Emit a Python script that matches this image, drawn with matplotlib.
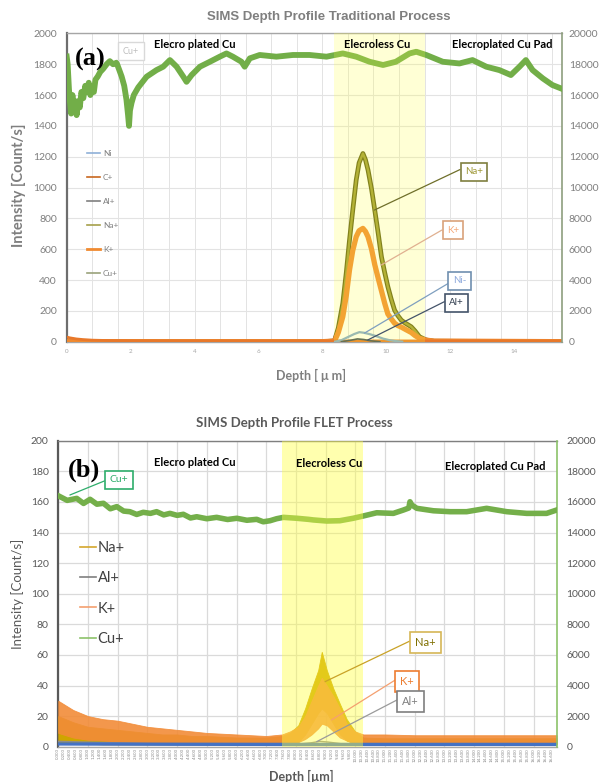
import matplotlib
matplotlib.use("Agg")
import matplotlib.pyplot as plt
from matplotlib.lines import Line2D
from matplotlib.ticker import MultipleLocator, NullFormatter, FuncFormatter

plt.rcParams['font.family'] = ['Lato', 'DejaVu Sans']

# ---------------- Panel (a) data : Traditional process ----------------
cu_a_depth = [0.0, 0.03, 0.07, 0.1, 0.14, 0.18, 0.22, 0.27, 0.31, 0.36, 0.41, 0.46, 0.52,
              0.58, 0.64, 0.69, 0.74, 0.79, 0.85, 0.9, 0.97, 1.05, 1.14, 1.25, 1.35, 1.45,
              1.56, 1.65, 1.72, 1.8, 1.87, 1.92, 1.95, 1.98, 2.03, 2.1, 2.24, 2.5, 2.81,
              3.02, 3.23, 3.44, 3.65, 3.75, 3.91, 4.17, 4.48, 4.79, 5.0, 5.2, 5.47, 5.57,
              5.73, 6.04, 6.56, 7.08, 7.6, 8.13, 8.64, 9.06, 9.48, 9.9, 10.3, 10.73, 10.94,
              11.25, 11.77, 12.29, 12.7, 13.13, 13.54, 13.9, 14.17, 14.37, 14.58, 14.9,
              15.2, 15.47]
cu_a_counts = [18500, 18000, 16400, 15600, 14800, 16000, 15000, 15600, 14700, 15600, 15200,
               16200, 15800, 16600, 16200, 16800, 16000, 16400, 16200, 17000, 17200, 17500,
               17700, 18000, 18200, 18000, 18100, 17600, 17200, 16600, 15700, 14700, 14000,
               15000, 15500, 16000, 16500, 17190, 17620, 17840, 18270, 17840, 17190, 16860,
               17300, 17840, 18160, 18490, 18700, 18490, 18160, 17840, 18380, 18600, 18490,
               18600, 18600, 18490, 18700, 18490, 18160, 17950, 18160, 18700, 18810, 18600,
               18160, 18050, 18270, 17840, 17620, 17300, 17840, 18270, 17620, 17080, 16650,
               16430]

peak_a_depth = [0.0, 8.0, 8.38, 8.5, 8.64, 8.75, 8.85, 8.95, 9.06, 9.15, 9.27, 9.35, 9.43,
                9.54, 9.64, 9.75, 9.85, 9.95, 10.05, 10.15, 10.26, 10.36, 10.47, 10.6,
                10.78, 10.9, 11.04, 11.25, 11.5, 15.5]
na_a = [0, 0, 5, 90, 249, 450, 659, 850, 1049, 1160, 1221, 1180, 1113, 990, 854, 700, 551,
        450, 357, 280, 205, 170, 140, 120, 97, 70, 32, 11, 3, 0]
k_a = [0, 0, 4, 60, 162, 300, 465, 590, 681, 720, 735, 715, 680, 600, 500, 410, 330, 250,
       180, 150, 120, 105, 95, 80, 60, 40, 22, 10, 4, 0]

ni_a_depth = [8.4, 8.6, 8.8, 9.0, 9.16, 9.3, 9.5, 9.7, 9.9, 10.1, 10.3, 10.5]
ni_a = [0, 10, 30, 50, 62, 58, 48, 35, 20, 10, 4, 0]
al_a_depth = [8.6, 8.9, 9.1, 9.3, 9.5, 9.8]
al_a = [0, 10, 18, 14, 6, 0]
c_a_depth = [0, 0.1, 0.3, 0.5, 0.8, 1.2, 2, 4, 6, 8, 10, 12, 14, 15.5]
c_a = [30, 25, 18, 14, 10, 8, 6, 5, 5, 5, 5, 5, 5, 5]

a_left_ticks = list(range(0, 2001, 200))
a_right_ticks = list(range(0, 20001, 2000))
a_band = (8.38, 11.2)

# ---------------- Panel (b) data : FLET process ----------------
cu_b_depth = [0.0, 0.06, 0.3, 0.62, 0.85, 1.07, 1.3, 1.52, 1.75, 1.97, 2.2, 2.41, 2.64,
              2.86, 3.1, 3.31, 3.55, 3.76, 4.0, 4.21, 4.45, 4.66, 5.0, 5.33, 5.7, 6.01,
              6.35, 6.68, 6.9, 7.13, 7.35, 7.58, 8.03, 8.42, 8.59, 9.04, 9.48, 9.93, 10.27,
              10.72, 11.28, 11.62, 11.8, 11.84, 11.9, 12.07, 12.63, 13.19, 13.75, 14.42,
              15.1, 15.77, 16.44, 16.78]
cu_b_counts = [16400, 16340, 16100, 16230, 15900, 16170, 15850, 15910, 15550, 15690, 15400,
               15360, 15180, 15320, 15250, 15360, 15150, 15250, 15120, 15190, 14950, 15030,
               14900, 14990, 14850, 14930, 14800, 14860, 14700, 14770, 14900, 14990, 14930,
               14860, 14820, 14750, 14770, 14930, 15080, 15290, 15250, 15470, 15600, 16010,
               15800, 15580, 15420, 15360, 15360, 15580, 15360, 15250, 15250, 15470]

b_depth = [0.0, 0.5, 1.0, 1.5, 2.0, 2.5, 3.0, 3.5, 4.0, 4.5, 5.0, 5.5, 6.0, 6.5, 7.0, 7.53,
           7.8, 8.08, 8.31, 8.53, 8.75, 8.87, 9.04, 9.26, 9.48, 9.71, 9.99, 10.27, 11.0,
           12.0, 13.0, 14.0, 15.0, 16.0, 16.78]
k_b_lo = [9, 6, 4.5, 4, 3.3, 2.8, 2.2, 2, 1.8, 1.7, 1.7, 1.7, 1.7, 1.7, 1.7, 2, 2.5, 3, 5,
          8, 12, 15, 14, 10, 6, 4, 2, 2, 2, 2, 2, 2, 2, 2, 2]
k_b_hi = [30, 24, 20, 18, 17, 15, 13, 12, 11, 10, 9, 8.5, 8, 7.5, 7, 8, 10, 13, 20, 30, 40,
          45, 40, 33, 25, 15, 10, 8, 8, 7.5, 7.5, 7.5, 7.5, 7.5, 7.5]
na_b_lo = [2, 2, 2, 1.5, 1.5, 1.5, 1.5, 1.5, 1.5, 1.5, 1.5, 1.5, 1.5, 1.5, 1.5, 2, 2, 3, 8,
           15, 22, 25, 22, 15, 8, 4, 2, 1.5, 1.5, 1.5, 1.5, 1.5, 1.5, 1.5, 1.5]
na_b_hi = [20, 16, 13, 12, 11, 10, 9, 8, 8, 7, 7, 6.5, 6, 6, 6, 7, 9, 14, 25, 38, 50, 62,
           50, 38, 28, 18, 10, 6, 5.5, 5.5, 5.5, 5.5, 5.5, 5.5, 5.5]
base_b_depth = [0, 4, 8, 12, 16.78]
base_b = [1.8, 1.6, 1.5, 1.5, 1.5]
al_b_depth = [0, 1, 2, 3, 4, 6, 8, 8.5, 8.8, 9.1, 9.5, 10, 12, 16.78]
al_b = [3.5, 3, 2.5, 2, 1.8, 1.6, 1.6, 2.5, 3.5, 3, 2, 1.6, 1.6, 1.6]

b_left_ticks = list(range(0, 201, 20))
b_right_ticks = list(range(0, 20001, 2000))
b_band = (7.53, 10.27)

# ---------------- figure ----------------
W, H = 600, 782
fig = plt.figure(figsize=(6, 7.82), dpi=100)


def fx(px):
    return px / W


def fy(py):
    return 1 - py / H


def style_axes(ax, ax2, left_col, right_col):
    for s in ['top', 'bottom']:
        ax.spines[s].set_color('#A6A6A6')
        ax.spines[s].set_linewidth(1.0)
    ax.spines['right'].set_visible(False)
    ax.spines['left'].set_color(left_col)
    ax.spines['left'].set_linewidth(1.6)
    for s in ['top', 'bottom', 'left']:
        ax2.spines[s].set_visible(False)
    ax2.spines['right'].set_color(right_col)
    ax2.spines['right'].set_linewidth(1.2)


def note(ax2, src_ax, text, xy, center, tcol, ecol, lcol, relpos, fs, lw=1.2):
    ax2.annotate(text, xy=xy, xycoords=src_ax.transData,
                 xytext=(center[0], H - center[1]), textcoords='figure pixels',
                 ha='center', va='center', fontsize=fs, color=tcol,
                 bbox=dict(boxstyle='square,pad=0.45', fc='white', ec=ecol, lw=lw),
                 arrowprops=dict(arrowstyle='-', color=lcol, lw=0.9, shrinkA=0,
                                 shrinkB=0, relpos=relpos),
                 zorder=30)


# ======== Panel (a) ========
ax_a = fig.add_axes([fx(66.7), fy(341.7), fx(562 - 66.7), (341.7 - 33.4) / H])
ax_a.set_xlim(0, 15.5)
ax_a.set_ylim(0, 2000)
ax_a.set_yticks(a_left_ticks)
ax_a.xaxis.set_major_locator(MultipleLocator(2))
ax_a.xaxis.set_minor_locator(MultipleLocator(0.8))
ax_a.xaxis.remove_overlapping_locs = False
ax_a.grid(which='minor', axis='x', color='#E3E3E3', lw=0.7)
ax_a.grid(which='major', axis='y', color='#E3E3E3', lw=0.8)
ax_a.tick_params(axis='y', labelsize=7.5, colors='#7F7F7F', length=0, pad=7)
ax_a.tick_params(axis='x', which='both', length=0, labelsize=4.5, labelcolor='#A6A6A6', pad=5)
ax_a.set_axisbelow(True)

ax_a.plot(peak_a_depth, na_a, color='#5E5E12', lw=3.4, zorder=3)
ax_a.plot(peak_a_depth, na_a, color='#9E9C34', lw=1.7, zorder=3)
ax_a.plot(peak_a_depth, k_a, color='#F08A30', lw=3.8, zorder=4)
ax_a.plot(c_a_depth, c_a, color='#E8782A', lw=2.0, zorder=4)
ax_a.plot(ni_a_depth, ni_a, color='#7FA7D0', lw=1.6, zorder=5)
ax_a.plot(al_a_depth, al_a, color='#3A4A5C', lw=1.2, zorder=5)

ax_a2 = ax_a.twinx()
ax_a2.set_ylim(0, 20000)
ax_a2.set_yticks(a_right_ticks)
ax_a2.tick_params(axis='y', labelsize=7.5, colors='#7F7F7F', length=0, pad=5)
ax_a2.plot(cu_a_depth, cu_a_counts, color='#72AE48', lw=4.2, zorder=3)
ax_a2.axvspan(a_band[0], a_band[1], color='#FFFF40', alpha=0.22, lw=0, zorder=10)
style_axes(ax_a, ax_a2, '#6E6E6E', '#8E9E7E')

leg_a = [Line2D([], [], color='#8FB0D8', lw=1.2),
         Line2D([], [], color='#C8671F', lw=1.2),
         Line2D([], [], color='#7F7F7F', lw=1.2),
         Line2D([], [], color='#A5A04A', lw=1.2),
         Line2D([], [], color='#F08A30', lw=2.0),
         Line2D([], [], color='#9AA27A', lw=1.2)]
ax_a.legend(leg_a, ['Ni', 'C+', 'Al+', 'Na+', 'K+', 'Cu+'], loc='center left',
            bbox_to_anchor=(fx(87), fy(213.3)), bbox_transform=fig.transFigure,
            frameon=False, fontsize=6, labelcolor='#808080', handlelength=1.56,
            handletextpad=0.35, labelspacing=2.04, borderpad=0, borderaxespad=0)

note(ax_a2, ax_a, 'Na+', (9.63, 854), (474, 171.7), '#A09A3A', '#7F7F3F', '#6F6F2A',
     (0, 1), 7)
note(ax_a2, ax_a, 'K+', (9.84, 497), (453, 230.3), '#F4A97A', '#D9A27A', '#E0B090',
     (0, 0.85), 7)
note(ax_a2, ax_a, 'Ni-', (9.32, 56), (459.5, 280.7), '#8FAADC', '#6F8FAF', '#7F9FBF',
     (0, 0.5), 7)
note(ax_a2, ax_a, 'Al+', (9.42, 11), (456.7, 302.8), '#333F50', '#44546A', '#44546A',
     (0, 0.9), 7)
ax_a2.text(fx(131), fy(51), 'Cu+', transform=fig.transFigure, ha='center', va='center',
           fontsize=6.5, color='#BFBFBF', zorder=30,
           bbox=dict(boxstyle='square,pad=0.5', fc='white', ec='#D9D9D9', lw=1.0))

fig.text(fx(329), fy(16.7), 'SIMS Depth Profile Traditional Process', ha='center',
         va='center', fontsize=9.5, color='#7F7F7F', fontweight='bold',
         family=['Liberation Sans', 'DejaVu Sans'])
fig.text(fx(90), fy(59), '(a)', ha='center', va='center', fontsize=19,
         fontweight='bold', family=['Liberation Serif', 'DejaVu Serif'], color='black')
for s, cx, cy in [('Elecro plated Cu', 195, 44), ('Elecroless Cu', 376.7, 44.2),
                  ('Elecroplated Cu Pad', 502.5, 44)]:
    fig.text(fx(cx), fy(cy), s, ha='center', va='center', fontsize=8, fontweight='bold',
             color='black')
fig.text(fx(19), fy(185), 'Intensity [Count/s]', rotation=90, ha='center', va='center',
         fontsize=10.5, fontweight='bold', color='#7F7F7F')
fig.text(fx(311.5), fy(375), 'Depth [ μ m]', ha='center', va='center', fontsize=9,
         fontweight='bold', color='#7F7F7F')

# ======== Panel (b) ========
ax_b = fig.add_axes([fx(58.3), fy(746.7), fx(556.7 - 58.3), (746.7 - 440.7) / H])
ax_b.set_xlim(0, 16.78)
ax_b.set_ylim(0, 200)
ax_b.set_yticks(b_left_ticks)
ax_b.xaxis.set_major_locator(MultipleLocator(1))
ax_b.xaxis.set_major_formatter(NullFormatter())
ax_b.xaxis.set_minor_locator(MultipleLocator(0.2))
ax_b.xaxis.set_minor_formatter(FuncFormatter(lambda v, p: f"{v:.3f}"))
ax_b.xaxis.remove_overlapping_locs = False
ax_b.grid(which='major', axis='both', color='#DADADA', lw=0.9)
ax_b.tick_params(axis='y', labelsize=7.5, colors='#595959', length=0, pad=7)
ax_b.tick_params(axis='x', which='both', length=0, pad=1)
ax_b.tick_params(axis='x', which='minor', labelsize=3.2, labelcolor='#8A8A8A',
                 labelrotation=90)
ax_b.set_axisbelow(True)

ax_b.fill_between(b_depth, na_b_lo, na_b_hi, color='#CFA500', lw=0.6, zorder=3)
ax_b.fill_between(b_depth, k_b_lo, k_b_hi, color='#F28C38', lw=0.6, alpha=0.9, zorder=4)
ax_b.plot(al_b_depth, al_b, color='#8C8C8C', lw=1.0, zorder=5)
ax_b.plot(base_b_depth, base_b, color='#4472C4', lw=2.4, zorder=6)

ax_b2 = ax_b.twinx()
ax_b2.set_ylim(0, 20000)
ax_b2.set_yticks(b_right_ticks)
ax_b2.tick_params(axis='y', labelsize=7.5, colors='#595959', length=0, pad=7)
ax_b2.plot(cu_b_depth, cu_b_counts, color='#74AF4A', lw=4.0, zorder=3)
ax_b2.axvspan(b_band[0], b_band[1], color='#FFFF40', alpha=0.42, lw=0, zorder=10)
style_axes(ax_b, ax_b2, '#595959', '#8CC26A')
ax_b.spines['top'].set_color('#7F7F7F')

leg_b = [Line2D([], [], color='#D4A72C', lw=1.2),
         Line2D([], [], color='#7F7F7F', lw=1.2),
         Line2D([], [], color='#F4A070', lw=1.2),
         Line2D([], [], color='#8CC26A', lw=1.2)]
ax_b.legend(leg_b, ['Na+', 'Al+', 'K+', 'Cu+'], loc='center left',
            bbox_to_anchor=(fx(80), fy(593.4)), bbox_transform=fig.transFigure,
            frameon=False, fontsize=10.5, labelcolor='#404040', handlelength=1.1,
            handletextpad=0.1, labelspacing=1.12, borderpad=0, borderaxespad=0)

note(ax_b2, ax_b, 'Cu+', (0.39, 164.5), (119, 479.7), '#2EAD6B', '#2EAD6B', '#2EAD6B',
     (0, 0.6), 7.5)
note(ax_b2, ax_b, 'Na+', (8.98, 42.5), (425.8, 642.2), '#7F6F00', '#D6B656', '#C9A227',
     (0, 0.85), 8)
note(ax_b2, ax_b, 'K+', (9.2, 17.5), (407.2, 681.2), '#ED7D31', '#ED7D31', '#F4A070',
     (0, 0.9), 8)
note(ax_b2, ax_b, 'Al+', (8.7, 3.3), (410.5, 701.7), '#808080', '#7F7F7F', '#9A9A9A',
     (0, 0.9), 8)

fig.text(fx(294), fy(423.3), 'SIMS Depth Profile FLET Process', ha='center', va='center',
         fontsize=9.5, color='#595959', fontweight='bold')
fig.text(fx(84), fy(470), '(b)', ha='center', va='center', fontsize=19,
         fontweight='bold', family=['Liberation Serif', 'DejaVu Serif'], color='black')
for s, cx, cy in [('Elecro plated Cu', 195, 463), ('Elecroless Cu', 329.6, 463.3),
                  ('Elecroplated Cu Pad', 495, 466.7)]:
    fig.text(fx(cx), fy(cy), s, ha='center', va='center', fontsize=8, fontweight='bold',
             color='black')
fig.text(fx(18), fy(594), 'Intensity [Count/s]', rotation=90, ha='center', va='center',
         fontsize=9.5, color='#595959')
fig.text(fx(301), fy(776), 'Depth [µm]', ha='center', va='center', fontsize=9,
         fontweight='bold', color='#595959')

fig.savefig('out.png', dpi=100)
